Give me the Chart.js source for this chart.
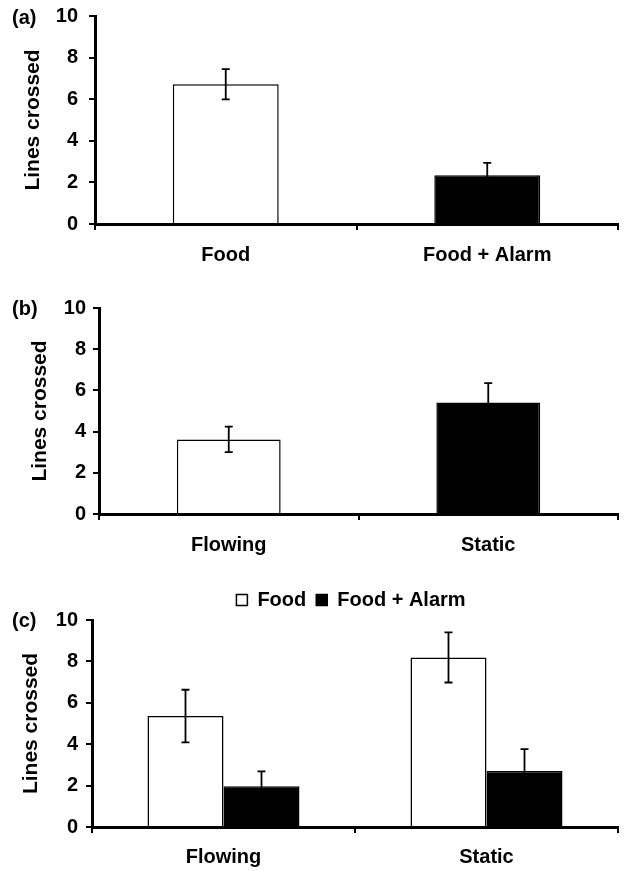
<!DOCTYPE html>
<html><head><meta charset="utf-8">
<script src="https://cdn.jsdelivr.net/npm/chart.js@4.4.1/dist/chart.umd.min.js"></script>
<style>
html,body{margin:0;padding:0;background:#fff;overflow:hidden;width:625px;height:871px;}
.wrap{position:absolute;left:0;width:625px;}
.lbl{position:absolute;left:12px;font:bold 20px "Liberation Sans",Arial,sans-serif;line-height:22px;color:#000;}
</style></head><body>
<div class="wrap" style="top:-10px;height:295px"><canvas id="ca" width="625" height="295"></canvas></div>
<div class="wrap" style="top:285px;height:290px"><canvas id="cb" width="625" height="290"></canvas></div>
<div class="wrap" style="top:575px;height:296px"><canvas id="cc" width="625" height="296"></canvas></div>
<div class="lbl" style="top:6px">(a)</div>
<div class="lbl" style="top:297px">(b)</div>
<div class="lbl" style="top:609px">(c)</div>
<script>
// ---- data ----
const yTicks = [0, 2, 4, 6, 8, 10];
const yTitle = 'Lines crossed';

const catsA = ['Food', 'Food + Alarm'];
const valsA = [6.72, 2.34];
const errA = [0.73, 0.60];

const catsB = ['Flowing', 'Static'];
const valsB = [3.62, 5.41];
const errB = [0.62, 0.94];

const catsC = ['Flowing', 'Static'];
const seriesNames = ['Food', 'Food + Alarm'];
const foodC = [5.36, 8.19];
const foodErrC = [1.27, 1.21];
const alarmC = [1.97, 2.71];
const alarmErrC = [0.72, 1.05];

Chart.defaults.font.family = '"Liberation Sans", Arial, sans-serif';
Chart.defaults.font.weight = 'bold';
Chart.defaults.color = '#000';
Chart.defaults.animation = false;

const errorBars = {
  id: 'errorBars',
  afterDatasetsDraw(chart) {
    const ctx = chart.ctx;
    const y = chart.scales.y;
    chart.data.datasets.forEach((ds, di) => {
      const meta = chart.getDatasetMeta(di);
      meta.data.forEach((bar, i) => {
        const v = ds.data[i], e = ds.errors[i];
        const yt = y.getPixelForValue(v + e), yb = y.getPixelForValue(v - e);
        ctx.save();
        ctx.strokeStyle = '#000';
        ctx.lineWidth = 1.8;
        ctx.beginPath();
        ctx.moveTo(bar.x, yt); ctx.lineTo(bar.x, yb);
        ctx.moveTo(bar.x - 4, yt); ctx.lineTo(bar.x + 4, yt);
        ctx.moveTo(bar.x - 4, yb); ctx.lineTo(bar.x + 4, yb);
        ctx.stroke();
        ctx.restore();
      });
    });
  }
};

const centerLegend = {
  id: 'centerLegend',
  afterLayout(chart) {
    const lg = chart.legend;
    if (!lg || !lg.options.display) return;
    const ca = chart.chartArea;
    const dx = (ca.left + ca.right) / 2 - 4 - (lg.left + lg.right) / 2;
    lg.left += dx; lg.right += dx;
  }
};

function opts(p) {
  return {
    responsive: false,
    layout: { padding: { left: p.padL, right: 7, top: p.padT, bottom: 0 } },
    plugins: {
      legend: p.legend ? {
        display: true, position: 'top',
        labels: { boxWidth: 11, boxHeight: 11, padding: 10, font: { size: 20, weight: 'bold' }, color: '#000' }
      } : { display: false },
      tooltip: { enabled: false }
    },
    scales: {
      x: {
        grid: { display: true, drawOnChartArea: false, drawTicks: true, tickLength: 6, color: '#000', lineWidth: 2, offset: true },
        border: { display: true, color: '#000', width: 3 },
        ticks: { font: { size: 20, weight: 'bold' }, color: '#000', padding: p.xPad, maxRotation: 0 },
        afterFit(s) { s.height = p.xH; }
      },
      y: {
        min: 0, max: 10,
        afterBuildTicks(s) { s.ticks = yTicks.map(v => ({ value: v })); },
        grid: { display: true, drawOnChartArea: false, drawTicks: true, tickLength: 6, color: '#000', lineWidth: 2 },
        border: { display: true, color: '#000', width: 3 },
        ticks: { font: { size: 20, weight: 'bold' }, color: '#000', padding: p.yPad },
        title: { display: true, text: yTitle, font: { size: 21, weight: 'bold' }, color: '#000', padding: { top: 0, bottom: 0 } },
        afterFit(s) { s.width = p.axisX - p.padL; }
      }
    }
  };
}

new Chart(document.getElementById('ca'), {
  type: 'bar',
  data: {
    labels: catsA,
    datasets: [{
      data: valsA, errors: errA,
      backgroundColor: ['#fff', '#000'], borderColor: '#000', borderWidth: 1.5,
      categoryPercentage: 1, barPercentage: 0.405
    }]
  },
  options: opts({ padL: 21, padT: 26, axisX: 95, xH: 61, xPad: 13, yPad: 11 }),
  plugins: [errorBars]
});

new Chart(document.getElementById('cb'), {
  type: 'bar',
  data: {
    labels: catsB,
    datasets: [{
      data: valsB, errors: errB,
      backgroundColor: ['#fff', '#000'], borderColor: '#000', borderWidth: 1.5,
      categoryPercentage: 1, barPercentage: 0.40
    }]
  },
  options: opts({ padL: 28, padT: 23, axisX: 99, xH: 61, xPad: 13, yPad: 7 }),
  plugins: [errorBars]
});

new Chart(document.getElementById('cc'), {
  type: 'bar',
  data: {
    labels: catsC,
    datasets: [{
      label: seriesNames[0], data: foodC, errors: foodErrC,
      backgroundColor: '#fff', borderColor: '#000', borderWidth: 1.5,
      categoryPercentage: 0.578, barPercentage: 1
    }, {
      label: seriesNames[1], data: alarmC, errors: alarmErrC,
      backgroundColor: '#000', borderColor: '#000', borderWidth: 1.5,
      categoryPercentage: 0.578, barPercentage: 1
    }]
  },
  options: opts({ padL: 19, padT: 5, axisX: 92, xH: 44, xPad: 12, yPad: 8, legend: true }),
  plugins: [errorBars, centerLegend]
});
</script>
</body></html>
